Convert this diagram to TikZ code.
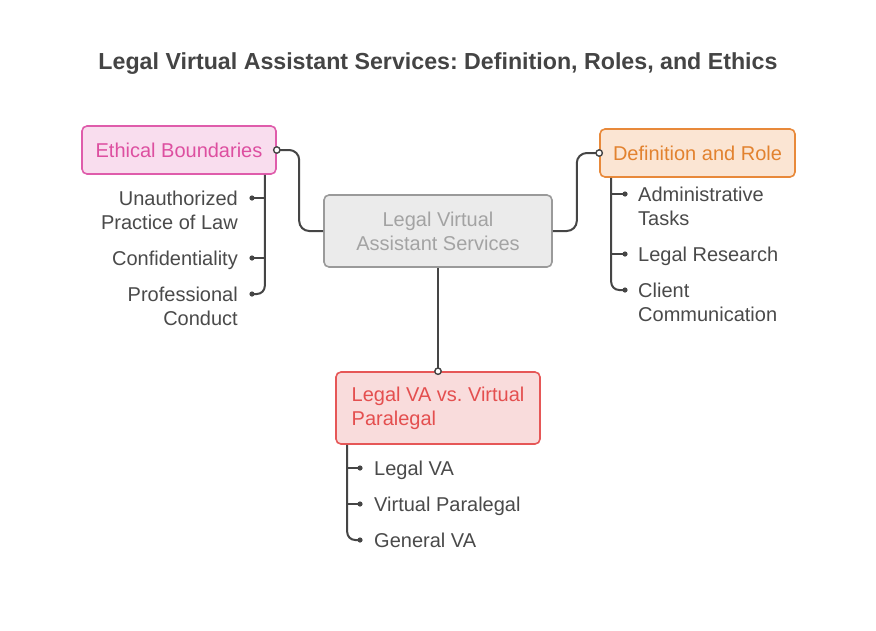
\documentclass[tikz,border=0pt]{standalone}
\usepackage{fontspec}
\setmainfont{Liberation Sans}
\usetikzlibrary{calc}
\frenchspacing
\definecolor{linec}{HTML}{454545}
\definecolor{itemc}{HTML}{4A4A4A}
\definecolor{titlec}{HTML}{444444}
\definecolor{pinkfill}{HTML}{F9DDEE}
\definecolor{pinkdraw}{HTML}{DF5CAB}
\definecolor{pinktext}{HTML}{DD4FA0}
\definecolor{orfill}{HTML}{FBE5D3}
\definecolor{ordraw}{HTML}{E8893A}
\definecolor{ortext}{HTML}{E2822F}
\definecolor{grfill}{HTML}{EBEBEB}
\definecolor{grdraw}{HTML}{9A9A9A}
\definecolor{grtext}{HTML}{A3A3A3}
\definecolor{rdfill}{HTML}{F9DCDC}
\definecolor{rddraw}{HTML}{E65757}
\definecolor{rdtext}{HTML}{E44F4F}
\tikzset{
  box/.style={draw, line width=1.6pt, rounded corners=5pt, inner sep=0pt,
    font=\fontsize{20}{24}\selectfont},
  conn/.style={draw=linec, line width=2pt, rounded corners=10pt},
  tick/.style={draw=linec, line width=2pt},
  dotm/.style={fill=linec, draw=none},
  endc/.style={draw=linec, fill=white, line width=1.4pt},
  itemr/.style={text=itemc, inner sep=0pt, align=right, anchor=base east,
    font=\fontsize{20}{24}\selectfont},
  iteml/.style={text=itemc, inner sep=0pt, align=left, anchor=base west,
    font=\fontsize{20}{24}\selectfont}
}
\begin{document}
\begin{tikzpicture}[x=1pt,y=-1pt]
\useasboundingbox (0,0) rectangle (876,630);
\fill[white] (0,0) rectangle (876,630);

\node[font=\bfseries\fontsize{23.2}{27}\selectfont, text=titlec] (title) at (438,64)
  {Legal Virtual Assistant Services: Definition, Roles, and Ethics};

% boxes
\node[box, fill=grfill, draw=grdraw, text=grtext, minimum width=228pt, minimum height=72pt, align=center]
  (ctr) at (438,231) {Legal Virtual\\Assistant Services};
\node[box, fill=pinkfill, draw=pinkdraw, text=pinktext, minimum width=194pt, minimum height=48pt]
  (eb) at (179,150) {Ethical Boundaries};
\node[box, fill=orfill, draw=ordraw, text=ortext, minimum width=195pt, minimum height=48pt]
  (dr) at (697.5,153) {Definition and Role};
\node[box, fill=rdfill, draw=rddraw, text=rdtext, minimum width=204pt, minimum height=72pt,
  align=left]
  (va) at (438,408) {Legal VA vs. Virtual\\Paralegal};

% main connectors
\draw[conn] (ctr.west) -- ++(-24,0) |- (eb.east);
\draw[conn] (ctr.east) -- ++(24,0) |- (dr.west);
\draw[conn] (ctr.south) -- (va.north);
\draw[endc] (eb.east) circle (3.2pt);
\draw[endc] (dr.west) circle (3.2pt);
\draw[endc] (va.north) circle (3.2pt);

% left branch
\coordinate (lt) at ($(eb.south east)+(-12,0)$);
\coordinate (l1) at (252,198);
\coordinate (l2) at (252,258);
\coordinate (l3) at (252,294);
\draw[conn, rounded corners=8pt] (lt) |- (l3);
\draw[tick] (l1) -- (lt |- l1);
\draw[tick] (l2) -- (lt |- l2);
\foreach \p in {l1,l2,l3} \fill[dotm] (\p) circle (2.6pt);
\node[itemr] (i1) at ($(l1)+(-14,31)$) {Unauthorized\\Practice of Law};
\node[itemr] (i2) at ($(l2)+(-14,7)$) {Confidentiality};
\node[itemr] (i3) at ($(l3)+(-14,31)$) {Professional\\Conduct};

% right branch
\coordinate (rt) at ($(dr.south west)+(12,0)$);
\coordinate (r1) at (625,194);
\coordinate (r2) at (625,254);
\coordinate (r3) at (625,290);
\draw[conn, rounded corners=8pt] (rt) |- (r3);
\draw[tick] (r1) -- (rt |- r1);
\draw[tick] (r2) -- (rt |- r2);
\foreach \p in {r1,r2,r3} \fill[dotm] (\p) circle (2.6pt);
\node[iteml] (j1) at ($(r1)+(13,31)$) {Administrative\\Tasks};
\node[iteml] (j2) at ($(r2)+(13,7)$) {Legal Research};
\node[iteml] (j3) at ($(r3)+(13,31)$) {Client\\Communication};

% bottom branch
\coordinate (bt) at ($(va.south west)+(12,0)$);
\coordinate (b1) at (360,468);
\coordinate (b2) at (360,504);
\coordinate (b3) at (360,540);
\draw[conn, rounded corners=8pt] (bt) |- (b3);
\draw[tick] (b1) -- (bt |- b1);
\draw[tick] (b2) -- (bt |- b2);
\foreach \p in {b1,b2,b3} \fill[dotm] (\p) circle (2.6pt);
\node[iteml] (k1) at ($(b1)+(14,7)$) {Legal VA};
\node[iteml] (k2) at ($(b2)+(14,7)$) {Virtual Paralegal};
\node[iteml] (k3) at ($(b3)+(14,7)$) {General VA};
\end{tikzpicture}
\end{document}
